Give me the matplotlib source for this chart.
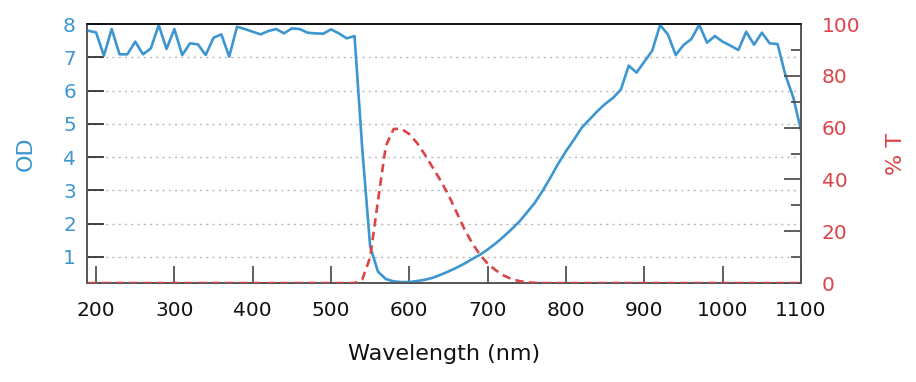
import numpy as np
import matplotlib.pyplot as plt

# Wavelength grid (nm), 10 nm steps
wavelength = np.arange(190, 1101, 10)

# Optical density
od = [7.80, 7.75, 7.05, 7.85, 7.09, 7.09, 7.47, 7.09, 7.27, 7.97,
      7.25, 7.85, 7.07, 7.42, 7.39, 7.07, 7.59, 7.69, 7.02, 7.92,
      7.85, 7.77, 7.69, 7.79, 7.85, 7.72, 7.87, 7.85, 7.74, 7.72,
      7.71, 7.84, 7.72, 7.57, 7.64, 4.20, 1.30, 0.55, 0.33, 0.26,
      0.24, 0.24, 0.27, 0.31, 0.37, 0.46, 0.56, 0.67, 0.79, 0.93,
      1.06, 1.22, 1.40, 1.60, 1.82, 2.05, 2.33, 2.62, 2.98, 3.38,
      3.80, 4.18, 4.52, 4.88, 5.13, 5.38, 5.60, 5.78, 6.03, 6.75,
      6.54, 6.87, 7.20, 7.97, 7.69, 7.07, 7.37, 7.55, 7.98, 7.44,
      7.64, 7.47, 7.35, 7.22, 7.77, 7.38, 7.74, 7.42, 7.40, 6.47,
      5.80, 4.80]

# Transmission (%)
trans = [0] * 35 + [1.5, 10.0, 32.0, 53.0, 59.5,
                    59.5, 57.5, 54.0, 49.5, 44.5, 39.5, 34.0, 27.5, 21.0, 15.5,
                    11.0, 7.5, 5.0, 3.0, 1.6, 0.8, 0.3, 0.1] + [0] * 34

blue = '#3d96d0'
red = '#dc4448'

fig = plt.figure(figsize=(9.16, 3.82), dpi=100)
ax = fig.add_axes([0.095, 0.259, 0.7795, 0.678])
ax2 = ax.twinx()

ax.plot(wavelength, od, color=blue, linewidth=1.9, zorder=3)
ax2.plot(wavelength, trans, color=red, linewidth=1.9, linestyle=(0, (3.2, 2)), zorder=3)

ax.set_xlim(188.5, 1100)
ax.set_ylim(0.21, 8)
ax2.set_ylim(0, 100)

ax.set_xticks(np.arange(200, 1101, 100))
ax.set_yticks(np.arange(1, 9, 1))
ax2.set_yticks(np.arange(0, 101, 20))
ax2.set_yticks(np.arange(10, 100, 20), minor=True)

for y in range(1, 8):
    ax.axhline(y, color='#b8b8b8', linewidth=1, linestyle=(0, (1.5, 3)), zorder=1)

ax.tick_params(axis='x', direction='in', length=12, width=1.2, color='#444444',
               labelsize=14.5, pad=13, labelcolor='#111111')
ax.tick_params(axis='y', direction='in', length=12, width=1.2, color='#222222',
               labelsize=14.5, pad=8, labelcolor=blue)
ax2.tick_params(axis='y', which='major', direction='in', length=12, width=1.2,
                color='#444444', labelsize=14.5, pad=15, labelcolor=red)
ax2.tick_params(axis='y', which='minor', direction='in', length=7, width=1.2, color='#444444')

for a in (ax, ax2):
    for side in ('left', 'right', 'bottom'):
        a.spines[side].set_color('#555555')
        a.spines[side].set_linewidth(1.2)
    a.spines['top'].set_color('#111111')
    a.spines['top'].set_linewidth(1.2)

ax.set_xlabel('Wavelength (nm)', fontsize=16, color='#111111', labelpad=17)
ax.set_ylabel('OD', fontsize=16, color=blue, labelpad=20)
ax2.set_ylabel('% T', fontsize=16, color=red, labelpad=18)

fig.savefig('out.png', dpi=100)
